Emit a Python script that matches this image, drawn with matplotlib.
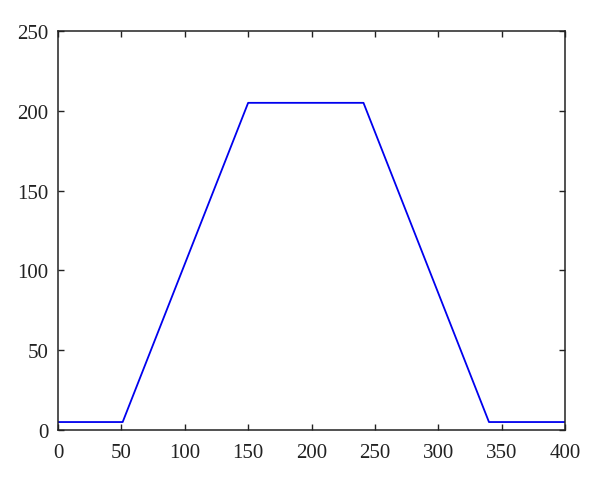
import matplotlib
matplotlib.use("Agg")
import matplotlib.pyplot as plt

# breakpoints of the profile
x_points = [0, 51, 150, 241, 340, 400]
y_points = [5, 5, 205, 205, 5, 5]

x_ticks = [0, 50, 100, 150, 200, 250, 300, 350, 400]
y_ticks = [0, 50, 100, 150, 200, 250]

plt.rcParams["font.family"] = ["Liberation Serif", "DejaVu Serif"]

fig = plt.figure(figsize=(6, 4.85), dpi=100)
ax = fig.add_axes([0.0967, 0.1113, 0.845, 0.8227])

ax.plot(x_points, y_points, color="#0000ee", linewidth=1.3)

ax.set_xlim(0, 400)
ax.set_ylim(0, 250)
ax.set_xticks(x_ticks)
ax.set_yticks(y_ticks)
ax.tick_params(direction="in", length=4, width=1, top=True, right=True,
               labelsize=15, colors="#222222")
ax.tick_params(axis="x", pad=9)
ax.tick_params(axis="y", pad=7)
for s in ax.spines.values():
    s.set_linewidth(1.1)
    s.set_color("#222222")

fig.savefig("out.png", dpi=100)
